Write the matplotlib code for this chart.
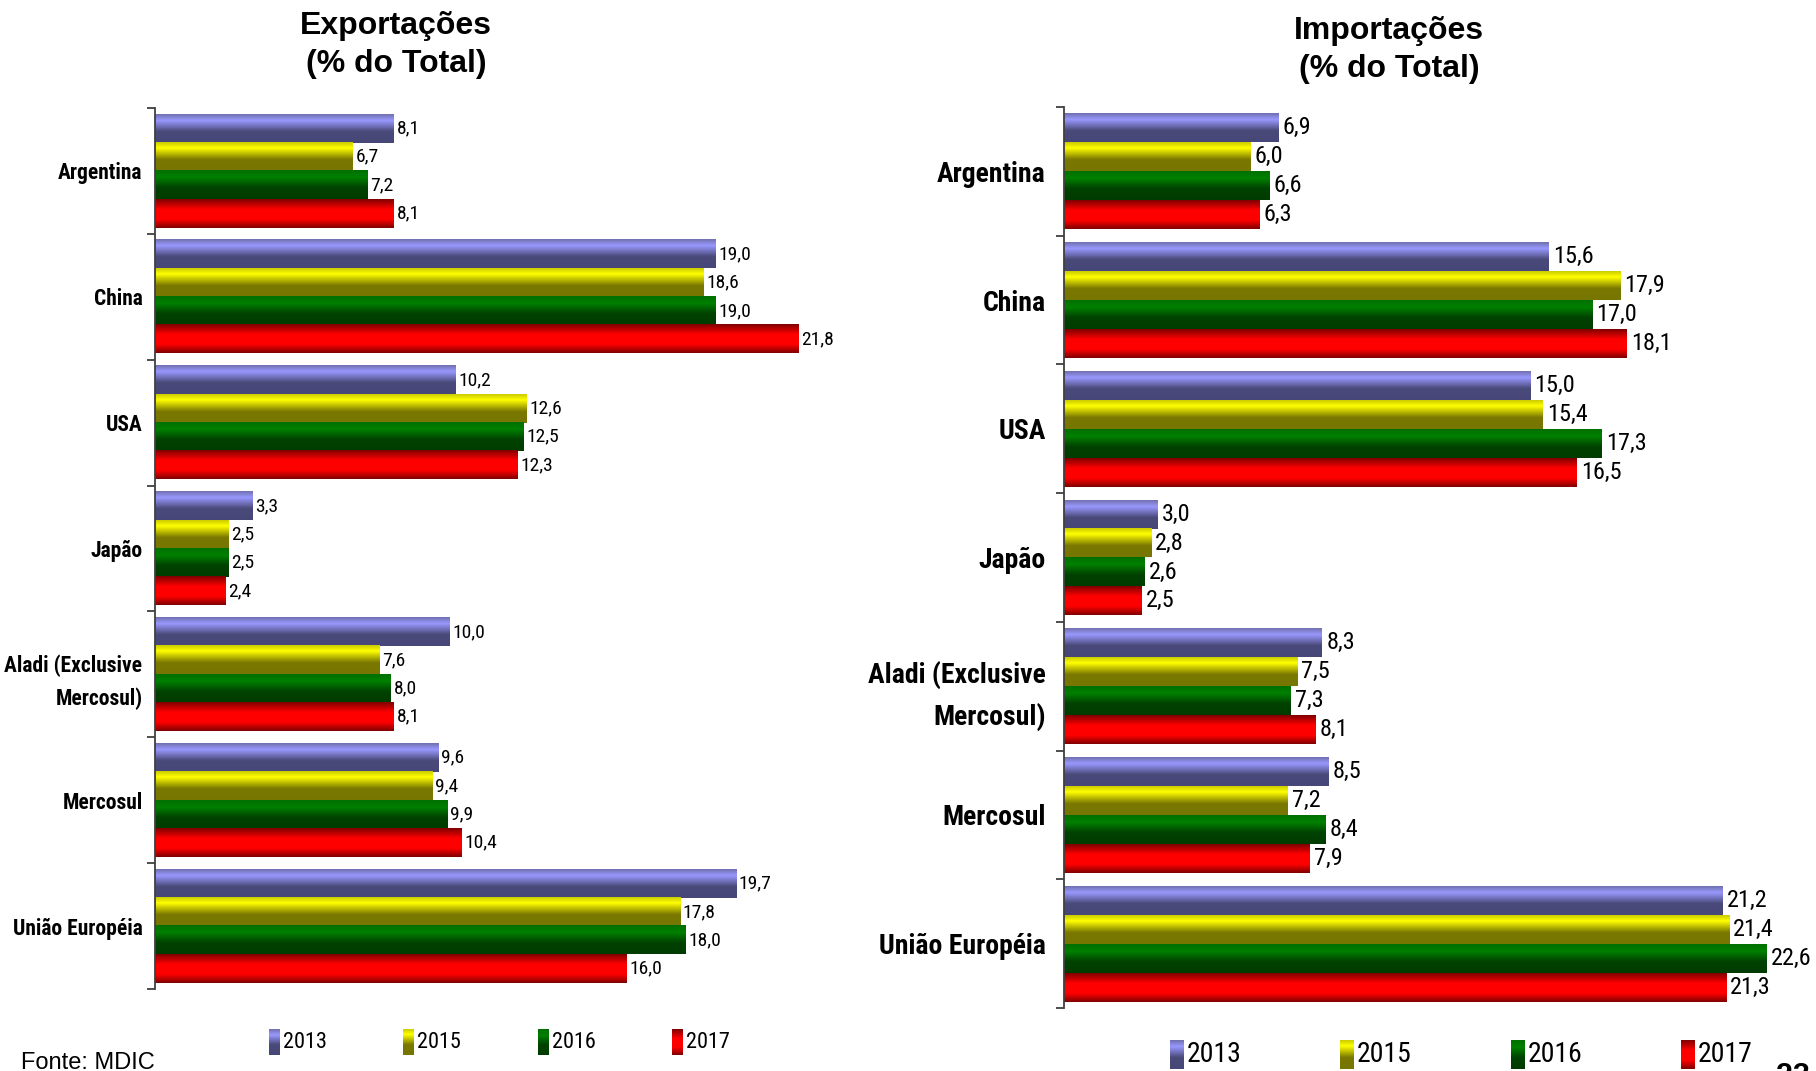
import numpy as np
import matplotlib
matplotlib.use("Agg")
import matplotlib.pyplot as plt
from matplotlib import font_manager
from matplotlib.colors import LinearSegmentedColormap

# --- Data (% do total) ---
categories = ["Argentina", "China", "USA", "Japão", "Aladi (Exclusive\nMercosul)",
              "Mercosul", "União Européia"]
years = ["2013", "2015", "2016", "2017"]

exp_2013 = [8.1, 19.0, 10.2, 3.3, 10.0, 9.6, 19.7]
exp_2015 = [6.7, 18.6, 12.6, 2.5, 7.6, 9.4, 17.8]
exp_2016 = [7.2, 19.0, 12.5, 2.5, 8.0, 9.9, 18.0]
exp_2017 = [8.1, 21.8, 12.3, 2.4, 8.1, 10.4, 16.0]

imp_2013 = [6.9, 15.6, 15.0, 3.0, 8.3, 8.5, 21.2]
imp_2015 = [6.0, 17.9, 15.4, 2.8, 7.5, 7.2, 21.4]
imp_2016 = [6.6, 17.0, 17.3, 2.6, 7.3, 8.4, 22.6]
imp_2017 = [6.3, 18.1, 16.5, 2.5, 8.1, 7.9, 21.3]

# vertical gradient stops per year (top -> bottom)
GRAD_STOPS = [
    [(0.0, "#7070b0"), (0.22, "#9999ff"), (0.6, "#4a4a7a"), (1.0, "#464678")],
    [(0.0, "#cccc00"), (0.2, "#ffff00"), (0.6, "#7a7800"), (1.0, "#767600")],
    [(0.0, "#007000"), (0.25, "#008000"), (0.6, "#004200"), (1.0, "#003c00")],
    [(0.0, "#800000"), (0.35, "#ff0000"), (0.7, "#ff0000"), (1.0, "#800000")],
]


def pick_font(names):
    for n in names:
        try:
            font_manager.findfont(font_manager.FontProperties(family=n),
                                  fallback_to_default=False)
            return n
        except ValueError:
            pass
    return "DejaVu Sans"


NARROW = pick_font(["Liberation Sans Narrow", "Arial Narrow", "DejaVu Sans Condensed",
                    "Roboto Condensed", "Liberation Sans"])
SANS = pick_font(["Liberation Sans", "Arial", "DejaVu Sans"])


def grad_img(stops, n=100):
    cmap = LinearSegmentedColormap.from_list("g", stops)
    return cmap(np.linspace(0, 1, n))[:, None, :]


GRADS = [grad_img(s) for s in GRAD_STOPS]

W, H = 1816, 1071
fig = plt.figure(figsize=(W / 100, H / 100), dpi=100)


def draw_panel(ax, series, cat_size, val_size, label_pad, val_off):
    h = 0.225
    y = np.arange(len(categories))
    for j, vals in enumerate(series):
        bars = ax.barh(y + (j - 1.5) * h, vals, height=h, color="none", edgecolor="none")
        for b, v in zip(bars, vals):
            x0, y0, w, hh = b.get_x(), b.get_y(), b.get_width(), b.get_height()
            ax.imshow(GRADS[j], extent=(x0, x0 + w, y0 + hh, y0), aspect="auto",
                      interpolation="bilinear", zorder=2)
            ax.annotate(f"{v:.1f}".replace(".", ","), (x0 + w, y0 + hh / 2),
                        xytext=(val_off, 0), textcoords="offset points",
                        ha="left", va="center", fontsize=val_size, family=NARROW,
                        color="black")
    ax.set_xlim(0, 24)
    ax.set_ylim(len(categories) - 0.5, -0.5)
    ax.xaxis.set_visible(False)
    for s in ["top", "right", "bottom"]:
        ax.spines[s].set_visible(False)
    ax.spines["left"].set_color("#404040")
    ax.spines["left"].set_linewidth(1.3)
    ax.set_yticks(y)
    ax.set_yticklabels(categories, fontsize=cat_size, fontweight="bold",
                       family=NARROW, linespacing=1.6)
    ax.set_yticks(np.arange(-0.5, len(categories), 1), minor=True)
    ax.tick_params(axis="y", which="major", length=0, pad=label_pad)
    ax.tick_params(axis="y", which="minor", length=6, width=1.3, color="#404040",
                   direction="out")


ax1 = fig.add_axes([155 / W, 1 - 989 / H, 708 / W, 881 / H])
draw_panel(ax1, [exp_2013, exp_2015, exp_2016, exp_2017], 15.5, 14, 9, 2)

ax2 = fig.add_axes([1064 / W, 1 - 1008 / H, 746 / W, 901 / H])
draw_panel(ax2, [imp_2013, imp_2015, imp_2016, imp_2017], 20, 17.5, 13, 3)

# overlay in pixel coordinates for titles, legends and footer
ov = fig.add_axes([0, 0, 1, 1], zorder=-1)
ov.set_xlim(0, W)
ov.set_ylim(H, 0)
ov.axis("off")

ov.text(396, 26, "Exportações", ha="center", va="center", fontsize=23,
        fontweight="bold", family=SANS)
ov.text(396, 64, "(% do Total)", ha="center", va="center", fontsize=23,
        fontweight="bold", family=SANS)
ov.text(1389, 31, "Importações", ha="center", va="center", fontsize=23,
        fontweight="bold", family=SANS)
ov.text(1389, 69, "(% do Total)", ha="center", va="center", fontsize=23,
        fontweight="bold", family=SANS)


def legend(x_starts, yc, sw, sh, size):
    for j, (x, yr) in enumerate(zip(x_starts, years)):
        ov.imshow(GRADS[j], extent=(x, x + sw, yc + sh / 2, yc - sh / 2),
                  aspect="auto", interpolation="bilinear")
        ov.text(x + sw + 3, yc, yr, ha="left", va="center", fontsize=size,
                family=NARROW)


legend([269, 403, 538, 672], 1042, 11, 26, 16)
legend([1170, 1340, 1511, 1681], 1055, 14, 29, 20)
ov.set_xlim(0, W)
ov.set_ylim(H, 0)

ov.text(21, 1069, "Fonte: MDIC", ha="left", va="baseline", fontsize=17, family=SANS)
# page number, cut by the bottom edge as in the original slide
ov.text(1776, 1062, "23", ha="left", va="top", fontsize=22, fontweight="bold", family=SANS)

fig.savefig("out.png", dpi=100)
